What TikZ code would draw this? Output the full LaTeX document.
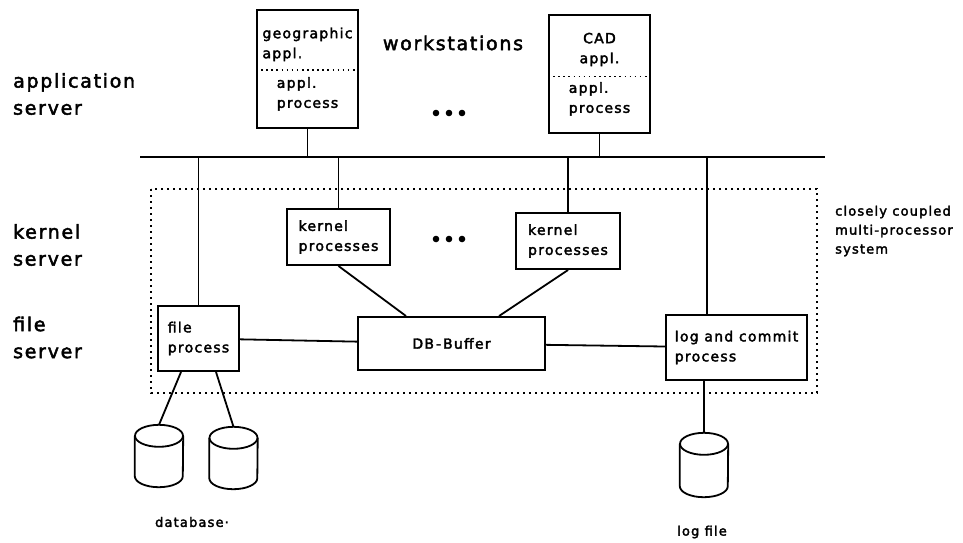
\documentclass[tikz,border=0pt]{standalone}
\usepackage{fontspec}
\setmainfont{DejaVu Sans}[LetterSpace=9, FakeBold=2.5]
\usetikzlibrary{calc}

\newcommand\lblfont{\fontsize{19}{27}\selectfont}
\newcommand\boxfont{\fontsize{14}{20}\selectfont}
\newcommand\notefont{\fontsize{13}{19}\selectfont}

\begin{document}
\begin{tikzpicture}[x=1pt,y=-1pt,
  ink/.style={line width=1.8pt, black},
  proc/.style={draw, line width=2pt, rectangle, inner sep=0pt, align=left, font=\boxfont},
  lbl/.style={inner sep=0pt, align=left, font=\lblfont, anchor=west},
  note/.style={inner sep=0pt, align=left, font=\notefont},
  drum/.style={rectangle, inner sep=0pt, minimum width=48pt, minimum height=62pt},
  frame/.style={line width=1.8pt, dash pattern=on 1.8pt off 4.2pt},
  divider/.style={line width=1.6pt, dash pattern=on 1.6pt off 3.5pt},
]
\useasboundingbox (0,0) rectangle (963,542);

% workstations
\node[proc, minimum width=101pt, minimum height=118pt] (geo) at (307.5,69)
  {\begin{tabular}{@{}c@{}}
     \begin{tabular}{@{}l@{}}geographic\\appl.\end{tabular}\\[20pt]
     \begin{tabular}{@{}l@{}}appl.\\process\end{tabular}
   \end{tabular}};
\node[proc, minimum width=101pt, minimum height=118pt] (cad) at (599.5,74)
  {\begin{tabular}{@{}c@{}}
     \begin{tabular}{@{}c@{}}CAD\\appl.\end{tabular}\\[20pt]
     \begin{tabular}{@{}l@{}}appl.\\process\end{tabular}
   \end{tabular}};
\draw[divider] ($(geo.north west)!0.51!(geo.south west)$) -- ($(geo.north east)!0.51!(geo.south east)$);
\draw[divider] ($(cad.north west)!0.52!(cad.south west)$) -- ($(cad.north east)!0.52!(cad.south east)$);

% kernel and file servers
\node[proc, minimum width=103pt, minimum height=56pt] (k1) at (338.5,237) {kernel\\processes};
\node[proc, minimum width=104pt, minimum height=56pt] (k2) at (568,241) {kernel\\processes};
\node[proc, minimum width=81pt, minimum height=65pt] (fp) at (198.5,338.5) {file\\process};
\node[proc, minimum width=187pt, minimum height=53pt] (db) at (451.5,343.5) {DB\kern2pt-\kern2pt Buffer};
\node[proc, minimum width=141pt, minimum height=65pt] (log) at (736.5,347.5) {log and commit\\process};

% disks
\node[drum] (db1) at (159,456) {};
\node[drum] (db2) at (233.5,458) {};
\node[drum, minimum height=64pt] (lf) at (704,465) {};
\foreach \c in {db1,db2,lf} {
  \draw[ink] ($(\c.north)+(0,11)$) ellipse [x radius=24pt, y radius=11pt];
  \draw[ink] ($(\c.north west)+(0,11)$) -- ($(\c.south west)+(0,-11)$)
    arc [start angle=180, end angle=360, x radius=24pt, y radius=11pt]
    -- ($(\c.north east)+(0,11)$);
}

% labels
\node[lbl] (appl) at (13,94) {application\\server};
\node[lbl] (kern) at (13,245) {kernel\\server};
\node[lbl] (fsrv) at (13,337.5) {file\\server};
\node[inner sep=0pt, font=\lblfont] (ws) at (453,43) {workstations};
\node[note, anchor=west] (mps) at (835,231) {closely coupled\\multi-processor\\system};
\node[note] (dbl) at (192,522) {database·};
\node[note] (lfl) at (702,532) {log file};

% ellipses
\foreach \x in {436,449,462} {
  \fill (\x,113) circle [radius=3.3pt];
  \fill (\x,239) circle [radius=3.3pt];
}

% network and connections
\coordinate (busL) at (140,157);
\coordinate (busR) at (825,157);
\draw[ink] (busL) -- (busR);
\draw[ink] (geo.south) -- (geo.south |- busL);
\draw[ink] (cad.south) -- (cad.south |- busL);
\draw[ink] (k1.north |- busL) -- (k1.north);
\draw[ink] (k2.north |- busL) -- (k2.north);
\draw[ink] (fp.north |- busL) -- (fp.north);
\coordinate (logtap) at ($(log.north west)+(42,0)$);
\draw[ink] (logtap |- busL) -- (logtap);
\draw[ink] (k1.south) -- ($(db.north west)+(49,0)$);
\draw[ink] (k2.south) -- ($(db.north west)+(142,0)$);
\draw[ink] (fp) -- (db);
\draw[ink] (db) -- (log);
\draw[ink] ($(fp.south west)+(24,0)$) -- (db1.north);
\draw[ink] ($(fp.south east)+(-24,0)$) -- (db2.north);
\draw[ink] (lf.north |- log.south) -- (lf.north);

% closely coupled multi-processor system
\draw[frame] (151,189) rectangle (817,393);
\end{tikzpicture}
\end{document}
